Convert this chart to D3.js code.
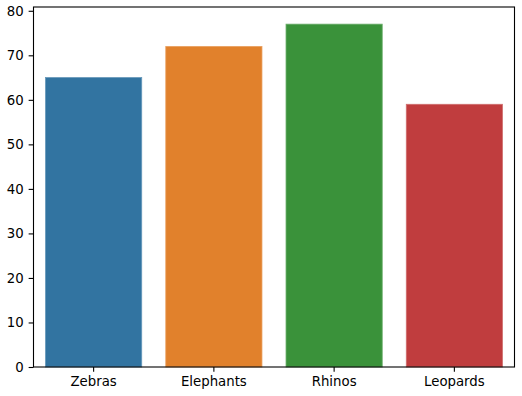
<!DOCTYPE html>
<html>
<head>
<meta charset="utf-8">
<script src="https://cdn.jsdelivr.net/npm/d3@7"></script>
<style>
  html, body { margin: 0; padding: 0; background: #fff; }
  svg { display: block; }
  text { font-family: "DejaVu Sans", sans-serif; fill: #000; }
</style>
</head>
<body>
<svg id="chart" width="522" height="396"></svg>
<script>
const categories = ["Zebras", "Elephants", "Rhinos", "Leopards"];
const values = [65, 72, 77, 59];
const colors = ["#3274a1", "#e1812c", "#3a923a", "#c03d3e"];
const yTicks = [0, 10, 20, 30, 40, 50, 60, 70, 80];

const W = 522, H = 396;
const margin = { left: 33.5, right: 7.5, top: 7, bottom: 29 };
const svg = d3.select("#chart");
const plotW = W - margin.left - margin.right;
const plotH = H - margin.top - margin.bottom;
const g = svg.append("g").attr("transform", `translate(${margin.left},${margin.top})`);

const x = d3.scaleBand().domain(categories).range([0, plotW]).paddingInner(0.2).paddingOuter(0.1);
const y = d3.scaleLinear().domain([0, d3.max(values) * 1.05]).range([plotH, 0]);

g.selectAll("rect.bar")
  .data(categories)
  .enter().append("rect")
  .attr("class", "bar")
  .attr("x", d => x(d))
  .attr("width", x.bandwidth())
  .attr("y", (d, i) => y(values[i]))
  .attr("height", (d, i) => plotH - y(values[i]))
  .attr("fill", (d, i) => colors[i])
  .attr("stroke", (d, i) => d3.interpolateRgb(colors[i], "#fff")(0.25))
  .attr("stroke-width", 0.8);

const tickLen = 4.86, pad = 4.86, fs = "13.3px";

// y axis
const yAxis = d3.axisLeft(y).tickValues(yTicks).tickSize(tickLen).tickPadding(pad).tickFormat(d3.format("d"));
const ya = g.append("g").call(yAxis);
ya.select(".domain").remove();
ya.selectAll("line").attr("stroke", "#000").attr("stroke-width", 1.1);
ya.selectAll("text").style("font-size", fs).attr("fill", "#000");

// x axis
const xAxis = d3.axisBottom(x).tickSize(tickLen).tickPadding(pad);
const xa = g.append("g").attr("transform", `translate(0,${plotH})`).call(xAxis);
xa.select(".domain").remove();
xa.selectAll("line").attr("stroke", "#000").attr("stroke-width", 1.1);
xa.selectAll("text").style("font-size", fs).attr("fill", "#000");

// spines
g.append("rect")
  .attr("x", 0).attr("y", 0).attr("width", plotW).attr("height", plotH)
  .attr("fill", "none").attr("stroke", "#000").attr("stroke-width", 1.1);
</script>
</body>
</html>
